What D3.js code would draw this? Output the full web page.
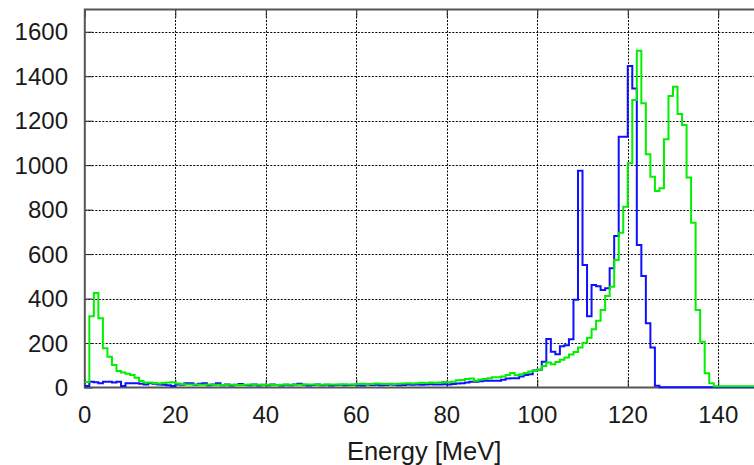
<!DOCTYPE html>
<html>
<head>
<meta charset="utf-8">
<script src="https://cdn.jsdelivr.net/npm/d3@7"></script>
<style>
    body { margin: 0; background: #fff; }
    text { font-family: "Liberation Sans", Arial, sans-serif; fill: #1a1a1a; }
</style>
</head>
<body>
<script>
//histogram bins are 1 MeV wide, bin i covers [i, i+1)
var binStart = 0,
    binWidth = 1;

//blue spectrum, counts per bin (0..149)
var blueCounts = [
    7, 26, 24, 19, 26, 26, 22, 26, 7, 19,
    19, 19, 17, 14, 19, 17, 14, 12, 10, 7,
    14, 12, 19, 19, 12, 17, 19, 10, 13, 19,
    10, 14, 9, 12, 16, 11, 10, 13, 9, 12,
    10, 14, 11, 9, 12, 10, 13, 17, 12, 9,
    11, 13, 10, 12, 9, 11, 12, 10, 11, 12,
    10, 9, 13, 11, 12, 10, 11, 13, 12, 10,
    11, 13, 12, 14, 12, 13, 15, 14, 13, 15,
    14, 16, 18, 19, 22, 26, 26, 28, 30, 30,
    30, 30, 35, 40, 42, 42, 50, 56, 60, 76,
    80, 116, 218, 161, 150, 185, 190, 217, 395, 975,
    551, 320, 461, 455, 438, 446, 536, 681, 1128, 1128,
    1446, 1345, 641, 501, 289, 180, 8, 1, 1, 1,
    1, 1, 1, 1, 1, 1, 1, 1, 1, 1,
    1, 1, 1, 1, 1, 1, 1, 1, 1, 1
];

//green spectrum, counts per bin (0..149)
var greenCounts = [
    25, 321, 425, 311, 176, 138, 101, 74, 67, 62,
    56, 44, 29, 22, 22, 20, 18, 20, 22, 24,
    18, 16, 14, 13, 13, 12, 12, 13, 12, 12,
    11, 12, 12, 11, 11, 12, 13, 12, 12, 11,
    12, 12, 11, 12, 13, 12, 12, 12, 13, 14,
    13, 12, 12, 13, 14, 13, 14, 15, 14, 14,
    16, 17, 15, 16, 18, 17, 16, 17, 16, 17,
    18, 19, 18, 19, 21, 20, 22, 21, 23, 25,
    24, 26, 33, 34, 38, 40, 30, 36, 38, 42,
    46, 46, 50, 56, 65, 55, 60, 65, 72, 76,
    80, 97, 112, 105, 115, 125, 135, 148, 160, 180,
    201, 224, 262, 300, 348, 411, 453, 573, 696, 813,
    1008, 1293, 1514, 1278, 1049, 948, 884, 896, 1116, 1311,
    1353, 1230, 1180, 944, 741, 348, 206, 64, 19, 6,
    6, 6, 6, 6, 6, 6, 6, 6, 6, 6
];

var xTicks = [0, 20, 40, 60, 80, 100, 120, 140],
    yTicks = [0, 200, 400, 600, 800, 1000, 1200, 1400, 1600];

var xLabel = "Energy [MeV]";

window.onload = drawChart();

function drawChart(){
    var width = 754,
        height = 465;

    //plot frame (right side runs past the picture edge)
    var left = 84.8,
        right = 763.5,
        top = 9.5,
        bottom = 387.5;

    var svg = d3.select("body")
        .append("svg")
        .attr("width", width)
        .attr("height", height);

    svg.append("rect")
        .attr("width", width)
        .attr("height", height)
        .attr("fill", "#fff");

    var x = d3.scaleLinear()
        .domain([0, 150])
        .range([left, right]);

    var y = d3.scaleLinear()
        .domain([0, 1700])
        .range([bottom, top]);

    //dotted grid
    var grid = svg.append("g")
        .attr("stroke", "#000")
        .attr("stroke-width", 1)
        .attr("stroke-dasharray", "2,1.5");

    grid.selectAll(".vgrid")
        .data(xTicks.filter(function(d){ return d > 0; }))
        .enter()
        .append("line")
        .attr("class", "vgrid")
        .attr("x1", function(d){ return Math.round(x(d)) + 0.5; })
        .attr("x2", function(d){ return Math.round(x(d)) + 0.5; })
        .attr("y1", top)
        .attr("y2", bottom);

    grid.selectAll(".hgrid")
        .data(yTicks.filter(function(d){ return d > 0; }))
        .enter()
        .append("line")
        .attr("class", "hgrid")
        .attr("x1", left)
        .attr("x2", width)
        .attr("y1", function(d){ return Math.round(y(d)) + 0.5; })
        .attr("y2", function(d){ return Math.round(y(d)) + 0.5; });

    //axes with inward ticks, labels drawn separately
    var axisLeft = svg.append("g")
        .attr("transform", "translate(" + left + ",0)")
        .call(d3.axisRight(y).tickValues(yTicks).tickSize(8).tickFormat(""));

    var axisTop = svg.append("g")
        .attr("transform", "translate(0," + top + ")")
        .call(d3.axisBottom(x).tickValues(xTicks).tickSize(8).tickFormat(""));

    var axisBottom = svg.append("g")
        .attr("transform", "translate(0," + bottom + ")")
        .call(d3.axisTop(x).tickValues(xTicks).tickSize(8).tickFormat(""));

    [axisLeft, axisTop, axisBottom].forEach(function(a){
        a.select(".domain").remove();
        a.selectAll(".tick line").attr("stroke", "#222");
    });

    //frame lines
    svg.append("path")
        .attr("d", "M" + width + "," + top + "H" + left + "V" + bottom + "H" + width)
        .attr("fill", "none")
        .attr("stroke", "#555")
        .attr("stroke-width", 2);

    //tick labels
    svg.selectAll(".ylab")
        .data(yTicks)
        .enter()
        .append("text")
        .attr("class", "ylab")
        .attr("x", 68)
        .attr("y", function(d){ return y(d); })
        .attr("dy", "0.36em")
        .attr("text-anchor", "end")
        .style("font-size", "24px")
        .text(function(d){ return d; });

    svg.selectAll(".xlab")
        .data(xTicks)
        .enter()
        .append("text")
        .attr("class", "xlab")
        .attr("x", function(d){ return x(d); })
        .attr("y", 422.5)
        .attr("text-anchor", "middle")
        .style("font-size", "24px")
        .text(function(d){ return d; });

    svg.append("text")
        .attr("x", (left + right) / 2)
        .attr("y", 460)
        .attr("text-anchor", "middle")
        .style("font-size", "25.5px")
        .text(xLabel);

    //step histograms
    var step = d3.line()
        .x(function(d){ return x(d[0]); })
        .y(function(d){ return y(d[1]); })
        .curve(d3.curveStepAfter);

    function toPoints(counts){
        var pts = counts.map(function(c, i){
            return [binStart + i * binWidth, c];
        });
        pts.push([binStart + counts.length * binWidth, counts[counts.length - 1]]);
        return pts;
    }

    svg.append("path")
        .datum(toPoints(blueCounts))
        .attr("d", step)
        .attr("fill", "none")
        .attr("stroke", "#1010ff")
        .attr("stroke-width", 2);

    svg.append("path")
        .datum(toPoints(greenCounts))
        .attr("d", step)
        .attr("fill", "none")
        .attr("stroke", "#00f000")
        .attr("stroke-width", 2);
}
</script>
</body>
</html>
